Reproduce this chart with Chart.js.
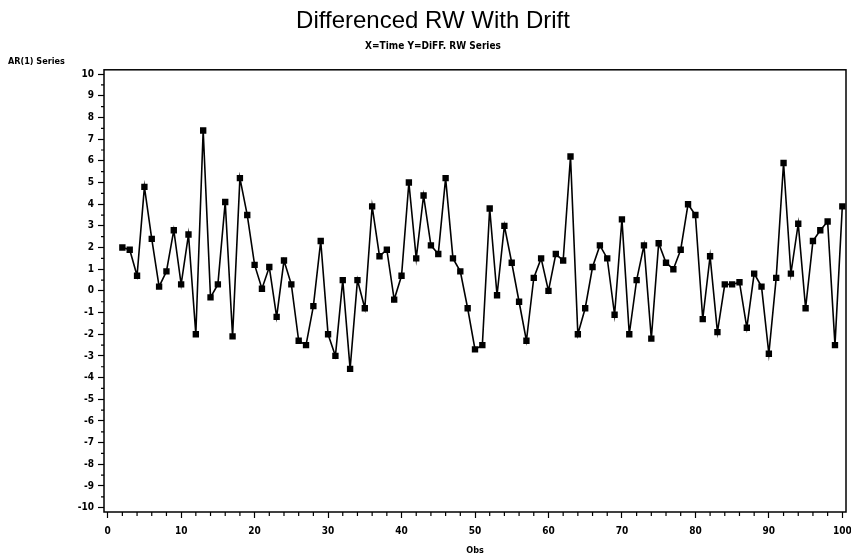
<!DOCTYPE html>
<html>
<head>
<meta charset="utf-8">
<script src="https://cdn.jsdelivr.net/npm/chart.js@4.4.1/dist/chart.umd.min.js"></script>
<style>
  html, body { margin: 0; padding: 0; background: #fff; }
  #wrap { width: 851px; height: 558px; }
</style>
</head>
<body>
<div id="wrap"><canvas id="myChart" width="851" height="558"></canvas></div>
<script>
"use strict";

// observation number (x) and differenced series value (y)
const obs = [2, 3, 4, 5, 6, 7, 8, 9, 10, 11, 12, 13, 14, 15, 16, 17, 18, 19, 20,
    21, 22, 23, 24, 25, 26, 27, 28, 29, 30, 31, 32, 33, 34, 35, 36, 37, 38, 39, 40,
    41, 42, 43, 44, 45, 46, 47, 48, 49, 50, 51, 52, 53, 54, 55, 56, 57, 58, 59, 60,
    61, 62, 63, 64, 65, 66, 67, 68, 69, 70, 71, 72, 73, 74, 75, 76, 77, 78, 79, 80,
    81, 82, 83, 84, 85, 86, 87, 88, 89, 90, 91, 92, 93, 94, 95, 96, 97, 98, 99, 100];

const diffSeries = [2.0, 1.9, 0.7, 4.8, 2.4, 0.2, 0.9, 2.8, 0.3, 2.6, -2.0, 7.4, -0.3, 0.3, 4.1, -2.1, 5.2, 3.5, 1.2,
    0.1, 1.1, -1.2, 1.4, 0.3, -2.3, -2.5, -0.7, 2.3, -2.0, -3.0, 0.5, -3.6, 0.5, -0.8, 3.9, 1.6, 1.9, -0.4, 0.7,
    5.0, 1.5, 4.4, 2.1, 1.7, 5.2, 1.5, 0.9, -0.8, -2.7, -2.5, 3.8, -0.2, 3.0, 1.3, -0.5, -2.3, 0.6, 1.5, 0.0,
    1.7, 1.4, 6.2, -2.0, -0.8, 1.1, 2.1, 1.5, -1.1, 3.3, -2.0, 0.5, 2.1, -2.2, 2.2, 1.3, 1.0, 1.9, 4.0, 3.5,
    -1.3, 1.6, -1.9, 0.3, 0.3, 0.4, -1.7, 0.8, 0.2, -2.9, 0.6, 5.9, 0.8, 3.1, -0.8, 2.3, 2.8, 3.2, -2.5, 3.9];

const xTicks = [0, 10, 20, 30, 40, 50, 60, 70, 80, 90, 100];
const yTicks = [-10, -9, -8, -7, -6, -5, -4, -3, -2, -1, 0, 1, 2, 3, 4, 5, 6, 7, 8, 9, 10];

const tickFont = { family: "'DejaVu Sans Condensed', 'DejaVu Sans'", size: 10, weight: 'bold' };

// frame, minor ticks and the y axis label in the top left corner
const sasFrame = {
    id: 'sasFrame',
    afterDraw(chart) {
        const {ctx, chartArea: a, scales: {x, y}} = chart;
        ctx.save();
        ctx.strokeStyle = '#000';
        ctx.lineWidth = 1.5;
        ctx.strokeRect(a.left, a.top, a.right - a.left, a.bottom - a.top);

        ctx.lineWidth = 1.2;
        ctx.beginPath();
        for (let v = 2; v < 100; v += 2) {
            if (v % 10 === 0) continue;
            const px = x.getPixelForValue(v);
            ctx.moveTo(px, a.bottom);
            ctx.lineTo(px, a.bottom + 4);
        }
        for (let v = -9.5; v < 10; v += 1) {
            const py = y.getPixelForValue(v);
            ctx.moveTo(a.left, py);
            ctx.lineTo(a.left - 3, py);
        }
        ctx.stroke();

        ctx.fillStyle = '#000';
        ctx.font = "bold 9px 'DejaVu Sans Condensed', 'DejaVu Sans'";
        ctx.textAlign = 'left';
        ctx.textBaseline = 'middle';
        ctx.fillText('AR(1) Series', 8, 62);
        ctx.restore();
    }
};

const ctx = document.getElementById('myChart').getContext('2d');
const chart = new Chart(ctx, {
    type: 'line',
    data: {
        labels: obs,
        datasets: [{
            label: 'AR(1) Series',
            data: obs.map((o, i) => ({x: o, y: diffSeries[i]})),
            borderColor: '#000',
            borderWidth: 1.6,
            backgroundColor: '#000',
            pointStyle: 'rect',
            pointRadius: 4.5,
            pointBorderWidth: 0,
            tension: 0,
            fill: false
        }]
    },
    options: {
        responsive: false,
        animation: false,
        layout: {
            padding: {left: 20, right: 5, top: 5, bottom: 2}
        },
        plugins: {
            legend: {display: false},
            tooltip: {enabled: false},
            title: {
                display: true,
                text: 'Differenced RW With Drift',
                color: '#000',
                font: {family: "'Liberation Sans', Arial", size: 24, weight: 'normal'},
                padding: {top: 2, bottom: 3}
            },
            subtitle: {
                display: true,
                text: 'X=Time Y=DiFF. RW Series',
                color: '#000',
                font: {family: "'DejaVu Sans Condensed', 'DejaVu Sans'", size: 10, weight: 'bold'},
                padding: {top: 2, bottom: 17}
            }
        },
        scales: {
            x: {
                type: 'linear',
                min: -0.5,
                max: 100.5,
                afterBuildTicks: (axis) => { axis.ticks = xTicks.map(v => ({value: v})); },
                afterFit: (axis) => { axis.height = 44; axis.paddingRight = 0; },
                ticks: {
                    color: '#000',
                    font: tickFont,
                    padding: 7,
                    maxRotation: 0,
                    autoSkip: false
                },
                grid: {
                    drawOnChartArea: false,
                    tickLength: 6,
                    tickColor: '#000',
                    tickWidth: 1.2
                },
                border: {display: false},
                title: {
                    display: true,
                    text: 'Obs',
                    color: '#000',
                    font: {family: "'DejaVu Sans Condensed', 'DejaVu Sans'", size: 9, weight: 'bold'},
                    padding: {top: 2, bottom: 0}
                }
            },
            y: {
                type: 'linear',
                min: -10.2,
                max: 10.2,
                afterBuildTicks: (axis) => { axis.ticks = yTicks.map(v => ({value: v})); },
                afterFit: (axis) => { axis.width = 84; },
                ticks: {
                    color: '#000',
                    font: tickFont,
                    padding: 4,
                    autoSkip: false
                },
                grid: {
                    drawOnChartArea: false,
                    tickLength: 6,
                    tickColor: '#000',
                    tickWidth: 1.2
                },
                border: {display: false}
            }
        }
    },
    plugins: [sasFrame]
});
</script>
</body>
</html>
